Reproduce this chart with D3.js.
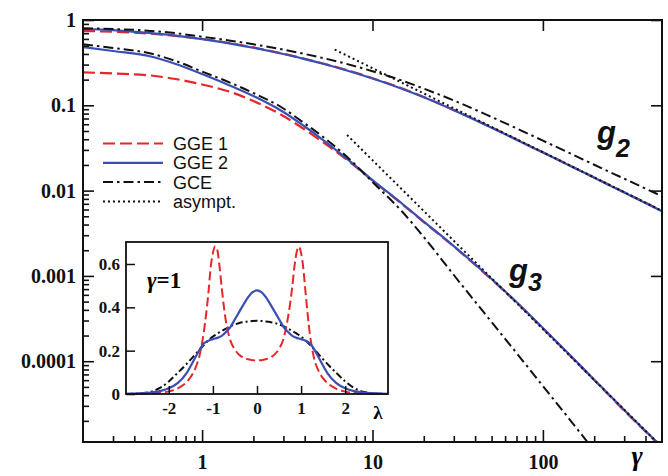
<!DOCTYPE html>
<html>
<head>
<meta charset="utf-8">
<script src="https://cdn.jsdelivr.net/npm/d3@7"></script>
<style>
  body { margin: 0; background: #fff; }
  svg { display: block; }
  .serif { font-family: "Liberation Serif", "Times New Roman", serif; font-weight: bold; }
  .sans { font-family: "Liberation Sans", Arial, sans-serif; }
</style>
</head>
<body>
<svg id="chart" width="668" height="476"></svg>
<script>
// main panel data
const gammaGrid = [0.2, 0.3, 0.5, 0.7, 1, 1.5, 2, 3, 4, 5, 7, 10, 15, 20, 30, 50, 70, 100, 150, 200, 300, 500]
const g2GGE1 = [0.742, 0.73, 0.69, 0.65, 0.60, 0.53, 0.477, 0.402, 0.351, 0.313, 0.26, 0.208, 0.157, 0.125, 0.0883, 0.055, 0.0398, 0.0281, 0.0189, 0.01425, 0.00957, 0.00578]
const g2GGE2 = [0.784, 0.76, 0.70, 0.657, 0.598, 0.526, 0.473, 0.399, 0.348, 0.311, 0.258, 0.2065, 0.1556, 0.1242, 0.0877, 0.0546, 0.0395, 0.0279, 0.0188, 0.01416, 0.00951, 0.00574]
const g2GCE = [0.80, 0.785, 0.745, 0.70, 0.637, 0.569, 0.519, 0.449, 0.40, 0.362, 0.307, 0.251, 0.194, 0.157, 0.114, 0.0729, 0.0537, 0.0385, 0.0264, 0.0201, 0.0138, 0.0086]
const g3GGE1 = [0.2437, 0.236, 0.2236, 0.2033, 0.1753, 0.1413, 0.1123, 0.0749, 0.052, 0.0382, 0.02347, 0.01313, 0.00687, 0.00428, 0.00221, 0.000908, 0.000488, 0.000242, 0.0001076, 0.0000602, 0.0000264, 0.00000973]
const g3GGE2 = [0.4826, 0.433, 0.3733, 0.305, 0.2328, 0.1661, 0.1285, 0.0834, 0.0564, 0.0408, 0.0241, 0.0133, 0.00697, 0.00434, 0.00224, 0.00092, 0.000494, 0.000245, 0.000109, 0.0000608, 0.0000268, 0.00000987]
const g3GCE = [0.5188, 0.4695, 0.4048, 0.3306, 0.2489, 0.1801, 0.1394, 0.0917, 0.0612, 0.0443, 0.02544, 0.01261, 0.00561, 0.002858, 0.001025, 0.000288, 0.0001248, 0.0000512, 0.0000186, 0.00000898, null, null]
const asym2Gamma = [6, 500]
const asym2 = [0.45, 0.0058]
const asym3Gamma = [7.09, 486]
const asym3 = [0.0449, 0.0000104]

const yTicks = [1, 0.1, 0.01, 0.001, 0.0001]
const yTickLabels = ['1', '0.1', '0.01', '0.001', '0.0001']
const xTicks = [1, 10, 100]
const xTickLabels = ['1', '10', '100']
const legendLabels = ['GGE 1', 'GGE 2', 'GCE', 'asympt.']

// inset data (gamma = 1)
const lambda = [-2.97, -2.8, -2.6, -2.4, -2.2, -2.0, -1.8, -1.6, -1.5, -1.4, -1.3, -1.2, -1.1, -1.05, -1.0, -0.95, -0.9, -0.85, -0.8, -0.7, -0.6, -0.5, -0.4, -0.3, -0.2, -0.1,
  0,
  0.1, 0.2, 0.3, 0.4, 0.5, 0.6, 0.7, 0.8, 0.85, 0.9, 0.95, 1.0, 1.05, 1.1, 1.2, 1.3, 1.4, 1.5, 1.6, 1.8, 2.0, 2.2, 2.4, 2.6, 2.8, 2.97]
const insetGGE1 = [0, 0, 0.001, 0.003, 0.006, 0.012, 0.026, 0.054, 0.08, 0.118, 0.18, 0.295, 0.47, 0.585, 0.65, 0.682, 0.665, 0.59, 0.49, 0.33, 0.245, 0.205, 0.18, 0.167, 0.16, 0.156,
  0.155,
  0.156, 0.16, 0.168, 0.183, 0.208, 0.255, 0.35, 0.495, 0.59, 0.655, 0.68, 0.65, 0.58, 0.47, 0.275, 0.16, 0.105, 0.072, 0.05, 0.024, 0.011, 0.005, 0.002, 0.001, 0, 0]
const insetGGE2 = [0.001, 0.002, 0.004, 0.007, 0.013, 0.026, 0.05, 0.095, 0.13, 0.168, 0.205, 0.234, 0.246, 0.25, 0.253, 0.256, 0.259, 0.263, 0.268, 0.287, 0.31, 0.345, 0.38, 0.415, 0.447, 0.47,
  0.478,
  0.47, 0.447, 0.415, 0.38, 0.345, 0.31, 0.287, 0.268, 0.263, 0.259, 0.256, 0.253, 0.25, 0.246, 0.234, 0.205, 0.168, 0.13, 0.095, 0.05, 0.026, 0.013, 0.007, 0.004, 0.002, 0.001]
const insetGCE = [0, 0.001, 0.004, 0.011, 0.028, 0.058, 0.097, 0.138, 0.16, 0.183, 0.205, 0.227, 0.248, 0.257, 0.265, 0.272, 0.279, 0.285, 0.291, 0.302, 0.313, 0.321, 0.328, 0.332, 0.335, 0.337,
  0.338,
  0.337, 0.335, 0.332, 0.328, 0.321, 0.313, 0.302, 0.291, 0.285, 0.279, 0.272, 0.265, 0.257, 0.248, 0.227, 0.205, 0.183, 0.16, 0.138, 0.097, 0.058, 0.028, 0.011, 0.004, 0.001, 0]
const insetXTicks = [-2, -1, 0, 1, 2]
const insetYTicks = [0, 0.2, 0.4, 0.6]

const RED = '#e8262a'
const BLUE = '#3a4fb4'
const BLACK = '#111'

const styles = {
  gge1: { stroke: RED, dash: '12,5', width: 2.2 },
  gge2: { stroke: BLUE, dash: null, width: 2.2 },
  gce: { stroke: BLACK, dash: '10,4,2.5,4', width: 2 },
  asym: { stroke: BLACK, dash: '2,3', width: 2 }
}

const svg = d3.select('#chart')
const mLeft = 83, mRight = 662, mTop = 20, mBottom = 442

const x = d3.scaleLog().domain([0.2, 500]).range([mLeft, mRight])
const y = d3.scaleLog().domain([1.13e-5, 1]).range([mBottom, mTop])

svg.append('clipPath').attr('id', 'clip')
  .append('rect')
  .attr('x', mLeft).attr('y', mTop)
  .attr('width', mRight - mLeft).attr('height', mBottom - mTop)

const line = d3.line()
  .defined(d => d[1] != null)
  .x(d => x(d[0]))
  .y(d => y(d[1]))
  .curve(d3.curveMonotoneX)

const series = [
  { g: gammaGrid, v: g2GGE1, s: styles.gge1 },
  { g: gammaGrid, v: g3GGE1, s: styles.gge1 },
  { g: gammaGrid, v: g2GGE2, s: styles.gge2 },
  { g: gammaGrid, v: g3GGE2, s: styles.gge2 },
  { g: gammaGrid, v: g2GCE, s: styles.gce },
  { g: gammaGrid, v: g3GCE, s: styles.gce },
  { g: asym2Gamma, v: asym2, s: styles.asym },
  { g: asym3Gamma, v: asym3, s: styles.asym }
]

const plot = svg.append('g').attr('clip-path', 'url(#clip)')
plot.selectAll('path')
  .data(series)
  .enter()
  .append('path')
  .attr('d', d => line(d3.zip(d.g, d.v)))
  .attr('fill', 'none')
  .attr('stroke', d => d.s.stroke)
  .attr('stroke-width', d => d.s.width)
  .attr('stroke-dasharray', d => d.s.dash)

// axes: major ticks
const fmtY = d => yTickLabels[yTicks.indexOf(d)]
const fmtX = d => xTickLabels[xTicks.indexOf(d)]

svg.append('g')
  .attr('transform', `translate(${mLeft},0)`)
  .call(d3.axisLeft(y).tickValues(yTicks).tickSize(-11).tickPadding(7).tickFormat(fmtY))
svg.append('g')
  .attr('transform', `translate(${mRight},0)`)
  .call(d3.axisRight(y).tickValues(yTicks).tickSize(-11).tickFormat(''))
svg.append('g')
  .attr('transform', `translate(0,${mBottom})`)
  .call(d3.axisBottom(x).tickValues(xTicks).tickSize(-12).tickPadding(13).tickFormat(fmtX))
svg.append('g')
  .attr('transform', `translate(0,${mTop})`)
  .call(d3.axisTop(x).tickValues(xTicks).tickSize(-11).tickFormat(''))

// minor ticks
const minorY = y.ticks().filter(t => !yTicks.some(m => Math.abs(m - t) < t * 1e-6))
const minorX = x.ticks().filter(t => !xTicks.includes(t) && t > 0.2 && t < 500)
svg.append('g')
  .attr('transform', `translate(${mLeft},0)`)
  .call(d3.axisLeft(y).tickValues(minorY).tickSize(-6).tickFormat(''))
svg.append('g')
  .attr('transform', `translate(0,${mBottom})`)
  .call(d3.axisBottom(x).tickValues(minorX).tickSize(-6).tickFormat(''))

svg.selectAll('.domain').remove()
svg.selectAll('.tick line').attr('stroke', BLACK).attr('stroke-width', 1.6)
svg.selectAll('.tick text')
  .attr('class', 'serif')
  .attr('fill', BLACK)
  .style('font-size', '20px')

svg.append('rect')
  .attr('x', mLeft).attr('y', mTop)
  .attr('width', mRight - mLeft).attr('height', mBottom - mTop)
  .attr('fill', 'none').attr('stroke', BLACK).attr('stroke-width', 2)

// axis title gamma
svg.append('text')
  .attr('class', 'serif')
  .attr('x', 637).attr('y', 465)
  .attr('text-anchor', 'middle')
  .style('font-size', '27px').style('font-style', 'italic')
  .text('γ')

// curve labels
const curveLabel = (gx, gy, sub, dy) => {
  const t = svg.append('text')
    .attr('class', 'sans')
    .attr('x', gx).attr('y', gy)
    .style('font-style', 'italic')
    .style('font-weight', 'bold')
    .style('font-size', '31px')
    .attr('fill', BLACK)
  t.append('tspan').text('g')
  t.append('tspan').attr('dy', dy).style('font-size', '25px').text(sub)
}
curveLabel(597, 143, '2', 14)
curveLabel(509, 281, '3', 10)

// legend
const legendStyles = [styles.gge1, styles.gge2, styles.gce, styles.asym]
const legend = svg.append('g').attr('transform', 'translate(103,143.5)')
const rows = legend.selectAll('g')
  .data(legendLabels)
  .enter()
  .append('g')
  .attr('transform', (d, i) => `translate(0,${i * 19.3})`)
rows.append('line')
  .attr('x1', 0).attr('x2', 60)
  .attr('stroke', (d, i) => legendStyles[i].stroke)
  .attr('stroke-width', (d, i) => legendStyles[i].width)
  .attr('stroke-dasharray', (d, i) => legendStyles[i].dash)
rows.append('text')
  .attr('class', 'sans')
  .attr('x', 70).attr('y', 6.5)
  .style('font-size', '18px')
  .attr('fill', BLACK)
  .text(d => d)

// I N S E T
const iLeft = 126, iRight = 388, iTop = 242, iBottom = 394
const xi = d3.scaleLinear().domain([-2.97, 2.97]).range([iLeft, iRight])
const yi = d3.scaleLinear().domain([0, 0.7015]).range([iBottom, iTop])

svg.append('rect')
  .attr('x', iLeft).attr('y', iTop)
  .attr('width', iRight - iLeft).attr('height', iBottom - iTop)
  .attr('fill', '#fff')

const inset = svg.append('g')
const iline = d3.line()
  .x(d => xi(d[0]))
  .y(d => yi(d[1]))
  .curve(d3.curveMonotoneX)

const insetSeries = [
  { v: insetGCE, s: { stroke: BLACK, dash: '7,3,2,3', width: 2 } },
  { v: insetGGE1, s: { stroke: RED, dash: '9,4', width: 2 } },
  { v: insetGGE2, s: { stroke: BLUE, dash: null, width: 2.2 } }
]
inset.selectAll('path')
  .data(insetSeries)
  .enter()
  .append('path')
  .attr('d', d => iline(d3.zip(lambda, d.v)))
  .attr('fill', 'none')
  .attr('stroke', d => d.s.stroke)
  .attr('stroke-width', d => d.s.width)
  .attr('stroke-dasharray', d => d.s.dash)

const iax = svg.append('g')
iax.append('g')
  .attr('transform', `translate(${iLeft},0)`)
  .call(d3.axisLeft(yi).tickValues(insetYTicks).tickSize(-9).tickPadding(6).tickFormat(d => String(d)))
iax.append('g')
  .attr('transform', `translate(0,${iBottom})`)
  .call(d3.axisBottom(xi).tickValues(insetXTicks).tickSize(-8).tickPadding(8).tickFormat(d => String(d)))
iax.selectAll('.domain').remove()
iax.selectAll('.tick line').attr('stroke', BLACK).attr('stroke-width', 1.5)
iax.selectAll('.tick text')
  .attr('class', 'serif')
  .attr('fill', BLACK)
  .style('font-size', '17px')

svg.append('rect')
  .attr('x', iLeft).attr('y', iTop)
  .attr('width', iRight - iLeft).attr('height', iBottom - iTop)
  .attr('fill', 'none').attr('stroke', BLACK).attr('stroke-width', 1.8)

svg.append('text')
  .attr('class', 'serif')
  .attr('x', 378).attr('y', 419)
  .attr('text-anchor', 'middle')
  .style('font-size', '19px')
  .text('λ')

const gl = svg.append('text')
  .attr('class', 'serif')
  .attr('x', 147).attr('y', 288)
  .style('font-size', '23px')
gl.append('tspan').style('font-style', 'italic').text('γ')
gl.append('tspan').text('=1')
</script>
</body>
</html>
